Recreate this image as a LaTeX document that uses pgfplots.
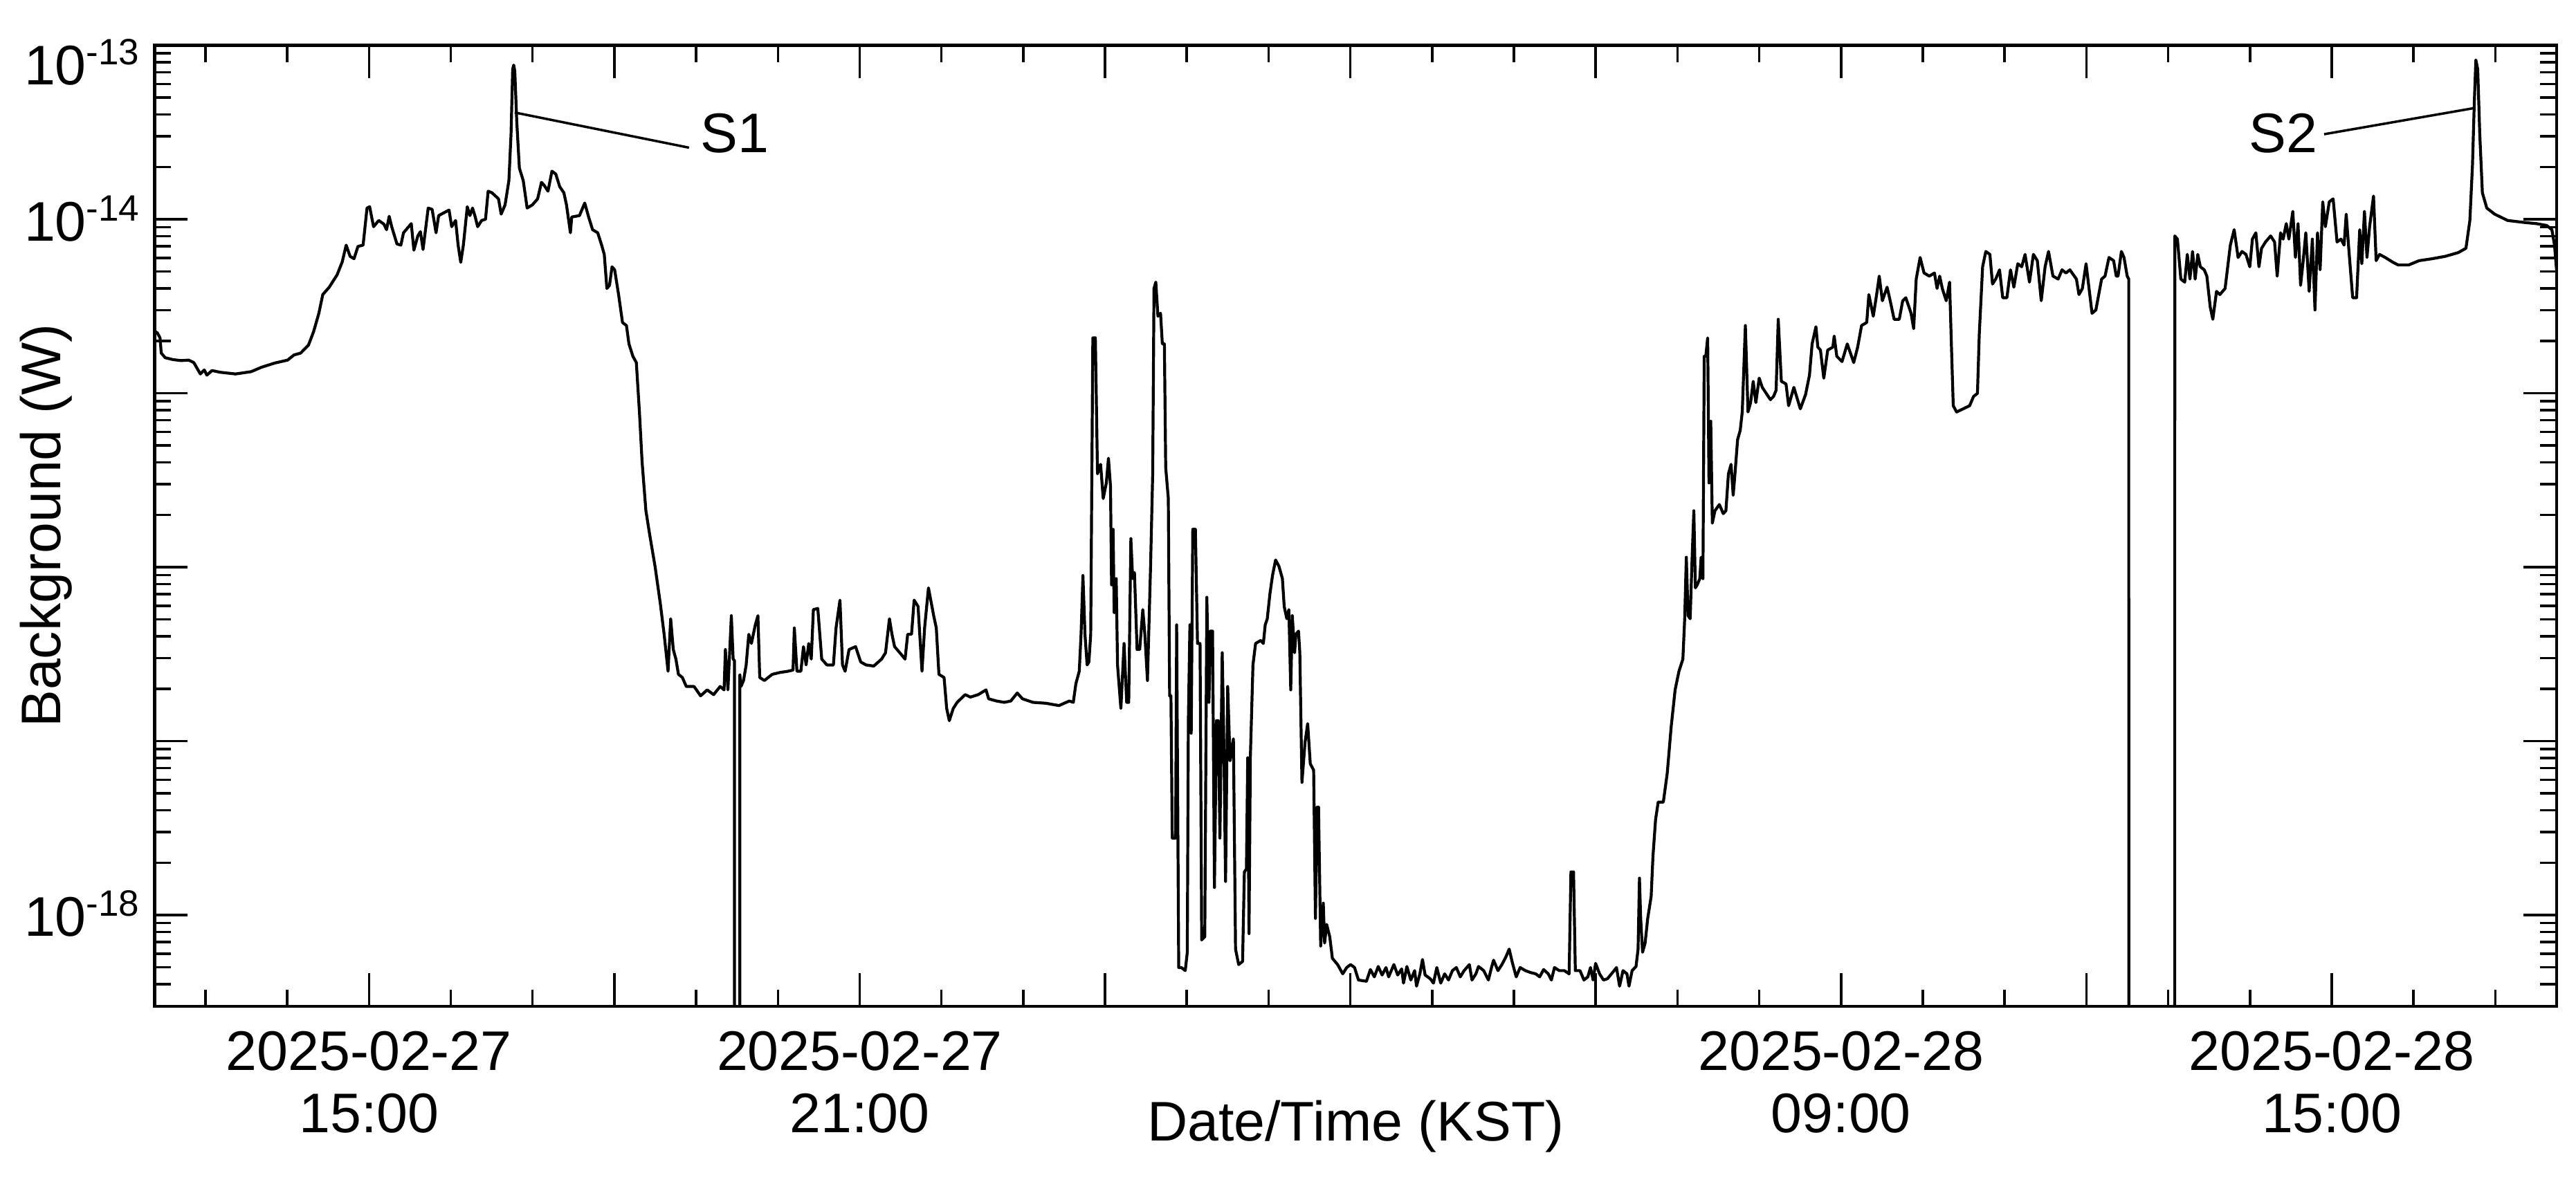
\documentclass[border=0pt]{standalone}
\usepackage{fontspec}
\setmainfont{Liberation Sans}
\usepackage{pgfplots}
\pgfplotsset{compat=1.18}
\newcommand{\supl}[1]{10\raisebox{2.9pt}{\fontsize{5.3pt}{5.3pt}\selectfont -#1}}
\begin{document}
\begin{tikzpicture}[font=\fontsize{8.07pt}{9pt}\selectfont]
\begin{axis}[
  scale only axis, width=347.16pt, height=138.95pt,
  xmin=12.378, xmax=41.75, ymode=log, ymin=2.985e-19, ymax=1e-13,
  enlargelimits=false,
  axis line style={line width=0.45pt},
  tick align=inside, major tick length=4.8pt, minor tick length=2.4pt,
  every tick/.style={black, line width=0.35pt},
  xtick={15,18,21,24,27,30,33,36,39},
  xticklabels={{2025-02-27\\15:00},{},{2025-02-27\\21:00},{},{},{},{2025-02-28\\09:00},{},{2025-02-28\\15:00}},
  minor xtick={13,14,16,17,19,20,22,23,25,26,28,29,31,32,34,35,37,38,40,41},
  ytick={1e-18,1e-17,1e-16,1e-15,1e-14},
  yticklabels={\supl{18},{},{},{},\supl{14}},
  extra y ticks={1e-13}, extra y tick labels={\supl{13}},
  extra y tick style={yticklabel style={yshift=-2.55pt}},
  minor ytick={4e-19,5e-19,6e-19,7e-19,8e-19,9e-19,
    2e-18,3e-18,4e-18,5e-18,6e-18,7e-18,8e-18,9e-18,
    2e-17,3e-17,4e-17,5e-17,6e-17,7e-17,8e-17,9e-17,
    2e-16,3e-16,4e-16,5e-16,6e-16,7e-16,8e-16,9e-16,
    2e-15,3e-15,4e-15,5e-15,6e-15,7e-15,8e-15,9e-15,
    2e-14,3e-14,4e-14,5e-14,6e-14,7e-14,8e-14,9e-14},
  xticklabel style={align=center, anchor=north, inner sep=0pt, yshift=-3.4pt, font=\fontsize{8.07pt}{9pt}\selectfont},
  yticklabel style={anchor=base east, inner sep=0pt, xshift=-2pt, yshift=-3.1pt, font=\fontsize{8.07pt}{9pt}\selectfont},
  xlabel={Date/Time (KST)}, ylabel={Background (W)},
  every axis x label/.style={at={(rel axis cs:0.5,-0.1403)}, anchor=base, font=\fontsize{8.07pt}{9pt}\selectfont},
  every axis y label/.style={at={(rel axis cs:-0.039,0.5)}, anchor=base, rotate=90, font=\fontsize{8.07pt}{9pt}\selectfont},
]
\addplot[black, line width=0.42pt, line join=round, mark=none] coordinates {
(12.365,2.30e-15) (12.413,2.22e-15) (12.445,2.08e-15) (12.460,1.70e-15) (12.508,1.60e-15)
(12.604,1.56e-15) (12.699,1.54e-15) (12.795,1.55e-15) (12.858,1.50e-15) (12.938,1.29e-15)
(12.986,1.36e-15) (13.018,1.27e-15) (13.081,1.35e-15) (13.177,1.32e-15) (13.368,1.29e-15)
(13.559,1.33e-15) (13.686,1.41e-15) (13.846,1.49e-15) (14.005,1.55e-15) (14.084,1.66e-15)
(14.164,1.70e-15) (14.260,1.89e-15) (14.323,2.26e-15) (14.387,2.88e-15) (14.435,3.69e-15)
(14.514,4.07e-15) (14.610,4.79e-15) (14.673,5.69e-15) (14.721,7.10e-15) (14.769,6.12e-15)
(14.817,5.93e-15) (14.865,6.98e-15) (14.928,7.10e-15) (14.976,1.16e-14) (15.008,1.18e-14)
(15.056,9.06e-15) (15.119,9.84e-15) (15.183,9.37e-15) (15.215,8.71e-15) (15.247,1.04e-14)
(15.278,9.06e-15) (15.342,7.21e-15) (15.390,7.10e-15) (15.422,8.36e-15) (15.517,9.44e-15)
(15.549,6.64e-15) (15.597,8.02e-15) (15.629,8.49e-15) (15.661,6.70e-15) (15.724,1.16e-14)
(15.772,1.14e-14) (15.820,8.36e-15) (15.852,1.05e-14) (15.979,1.13e-14) (16.011,9.06e-15)
(16.059,9.84e-15) (16.090,7.10e-15) (16.122,5.65e-15) (16.154,7.10e-15) (16.202,1.18e-14)
(16.234,1.05e-14) (16.266,1.16e-14) (16.297,1.04e-14) (16.329,9.06e-15) (16.377,9.84e-15)
(16.425,1.00e-14) (16.457,1.45e-14) (16.504,1.42e-14) (16.584,1.31e-14) (16.616,1.07e-14)
(16.664,1.21e-14) (16.711,1.67e-14) (16.737,3.09e-14) (16.757,7.30e-14) (16.770,7.70e-14)
(16.783,7.10e-14) (16.807,3.64e-14) (16.839,1.97e-14) (16.886,1.67e-14) (16.934,1.16e-14)
(16.998,1.21e-14) (17.062,1.31e-14) (17.109,1.63e-14) (17.141,1.57e-14) (17.189,1.45e-14)
(17.237,1.89e-14) (17.284,1.82e-14) (17.332,1.54e-14)
(17.383,1.42e-14) (17.415,1.21e-14) (17.463,8.36e-15) (17.479,1.03e-14) (17.574,1.05e-14)
(17.638,1.24e-14) (17.686,1.03e-14) (17.734,8.71e-15) (17.797,8.36e-15) (17.845,7.10e-15)
(17.877,6.28e-15) (17.909,4.00e-15) (17.941,4.17e-15) (17.972,5.33e-15) (18.004,5.12e-15)
(18.052,3.69e-15) (18.100,2.55e-15) (18.148,2.45e-15) (18.179,1.92e-15) (18.227,1.63e-15)
(18.269,1.50e-15) (18.307,7.80e-16) (18.339,4.06e-16) (18.386,2.11e-16) (18.434,1.52e-16)
(18.498,1.01e-16) (18.562,6.19e-17) (18.609,4.11e-17) (18.657,2.52e-17) (18.689,5.05e-17)
(18.721,3.36e-17) (18.753,2.96e-17) (18.784,2.42e-17) (18.832,2.32e-17) (18.880,2.06e-17)
(18.975,2.06e-17) (19.055,1.82e-17) (19.135,1.97e-17) (19.214,1.85e-17) (19.294,2.06e-17)
(19.342,1.97e-17) (19.358,3.36e-17) (19.389,1.97e-17) (19.431,5.26e-17) (19.453,2.96e-17)
(19.469,2.90e-17) (19.470,1e-22) (19.534,1e-22) (19.535,2.40e-17)
(19.549,2.06e-17) (19.580,2.23e-17) (19.612,2.74e-17) (19.644,4.11e-17) (19.676,3.64e-17)
(19.724,4.66e-17) (19.756,5.26e-17) (19.778,2.32e-17) (19.835,2.23e-17) (19.931,2.42e-17)
(20.026,2.48e-17) (20.122,2.52e-17) (20.185,2.56e-17) (20.201,4.47e-17) (20.233,2.52e-17)
(20.281,2.52e-17) (20.313,3.49e-17) (20.345,2.74e-17) (20.377,3.64e-17) (20.408,2.96e-17)
(20.434,5.70e-17) (20.488,5.79e-17) (20.536,2.96e-17) (20.599,2.74e-17) (20.679,2.74e-17)
(20.711,4.47e-17) (20.759,6.46e-17) (20.790,2.74e-17) (20.822,2.52e-17) (20.870,3.36e-17)
(20.950,3.49e-17) (21.013,2.85e-17) (21.077,2.74e-17) (21.172,2.70e-17) (21.268,2.96e-17)
(21.316,3.22e-17) (21.364,5.05e-17) (21.395,4.11e-17) (21.427,3.49e-17) (21.491,3.22e-17)
(21.555,2.96e-17) (21.587,4.11e-17) (21.634,4.11e-17) (21.666,6.46e-17) (21.714,5.94e-17)
(21.762,2.52e-17) (21.794,4.47e-17) (21.841,7.60e-17) (21.905,5.26e-17) (21.937,4.47e-17)
(21.969,2.42e-17) (22.032,2.32e-17) (22.064,1.54e-17) (22.096,1.31e-17) (22.144,1.54e-17)
(22.192,1.67e-17)
(22.290,1.85e-17) (22.354,1.79e-17) (22.450,1.85e-17) (22.545,1.97e-17) (22.577,1.75e-17)
(22.672,1.70e-17) (22.768,1.67e-17) (22.848,1.70e-17) (22.927,1.89e-17) (22.991,1.75e-17)
(23.118,1.67e-17) (23.277,1.65e-17) (23.437,1.60e-17) (23.564,1.70e-17) (23.612,1.67e-17)
(23.644,2.14e-17) (23.685,2.52e-17) (23.707,4.11e-17) (23.730,8.95e-17) (23.755,4.11e-17)
(23.781,2.74e-17) (23.803,2.85e-17) (23.825,4.11e-17) (23.851,2.08e-15) (23.882,2.08e-15)
(23.908,3.44e-16) (23.946,3.90e-16) (23.978,2.48e-16) (24.016,3.05e-16) (24.042,4.23e-16)
(24.067,2.92e-16) (24.080,7.91e-17) (24.099,1.65e-16) (24.112,5.48e-17) (24.137,8.59e-17)
(24.153,2.74e-17) (24.194,1.54e-17) (24.233,3.64e-17) (24.265,1.67e-17) (24.290,1.67e-17)
(24.316,1.46e-16) (24.338,8.59e-17) (24.360,9.31e-17) (24.392,3.36e-17) (24.424,3.36e-17)
(24.462,5.70e-17) (24.487,4.11e-17) (24.519,2.23e-17) (24.557,1.01e-16) (24.583,3.44e-16)
(24.599,4.00e-15) (24.621,4.35e-15) (24.647,2.77e-15) (24.679,2.88e-15) (24.701,1.92e-15)
(24.726,1.92e-15) (24.742,3.74e-16) (24.774,2.48e-16) (24.790,1.82e-17) (24.806,1.82e-17)
(24.822,2.77e-18) (24.863,2.77e-18) (24.876,4.66e-17) (24.901,4.99e-19) (24.933,4.99e-19)
(24.981,4.79e-19) (25.006,6.11e-19) (25.019,1.31e-17) (25.038,4.66e-17) (25.054,1.11e-17)
(25.073,1.65e-16) (25.105,1.65e-16) (25.131,3.64e-17) (25.162,3.64e-17) (25.182,7.19e-19)
(25.220,7.50e-19) (25.245,6.71e-17) (25.271,1.67e-17) (25.290,4.29e-17) (25.315,4.29e-17)
(25.338,1.44e-18) (25.363,1.31e-17) (25.385,1.31e-17) (25.405,2.77e-18) (25.433,3.22e-17)
(25.449,1.31e-17) (25.474,1.56e-18) (25.500,2.06e-17) (25.529,7.71e-18) (25.570,1.03e-17)
(25.596,6.37e-19) (25.634,5.19e-19) (25.682,5.41e-19) (25.704,1.77e-18) (25.729,1.84e-18)
(25.745,8.02e-18) (25.761,7.82e-19) (25.777,8.02e-18) (25.809,2.74e-17) (25.841,3.64e-17)
(25.904,3.79e-17) (25.936,3.64e-17) (25.959,4.66e-17) (25.984,5.05e-17) (26.016,7.00e-17)
(26.048,8.95e-17) (26.086,1.10e-16) (26.127,1.01e-16) (26.169,8.59e-17) (26.191,5.94e-17)
(26.223,5.05e-17) (26.248,5.70e-17) (26.271,1.97e-17) (26.290,5.26e-17) (26.318,3.22e-17)
(26.334,4.11e-17) (26.366,4.29e-17) (26.382,3.22e-17) (26.408,5.79e-18) (26.446,9.84e-18)
(26.478,1.26e-17) (26.510,7.40e-18) (26.551,6.81e-18) (26.573,9.57e-19) (26.595,4.17e-18)
(26.611,4.17e-18) (26.637,6.64e-19) (26.669,1.17e-18) (26.685,6.90e-19) (26.710,8.83e-19)
(26.748,7.50e-19) (26.780,5.64e-19) (26.844,5.19e-19) (26.907,4.59e-19) (26.955,4.99e-19)
(27.003,5.19e-19) (27.051,4.99e-19) (27.099,4.23e-19)
(27.197,4.16e-19) (27.245,4.86e-19) (27.293,4.41e-19) (27.341,5.06e-19) (27.388,4.52e-19)
(27.436,4.99e-19) (27.468,4.41e-19) (27.532,5.19e-19) (27.579,4.52e-19) (27.627,4.90e-19)
(27.650,4.06e-19) (27.691,5.06e-19) (27.739,4.23e-19) (27.786,4.79e-19) (27.809,3.90e-19)
(27.850,4.59e-19) (27.882,5.55e-19) (27.914,4.52e-19) (27.977,4.30e-19) (28.016,4.06e-19)
(28.057,4.99e-19) (28.105,4.06e-19) (28.153,4.59e-19) (28.200,4.23e-19) (28.248,4.79e-19)
(28.296,4.99e-19) (28.344,4.41e-19) (28.391,4.79e-19) (28.455,5.19e-19) (28.487,4.23e-19)
(28.535,4.59e-19) (28.567,5.06e-19) (28.630,4.79e-19) (28.688,4.23e-19) (28.726,4.99e-19)
(28.751,5.50e-19) (28.805,4.79e-19) (28.853,5.19e-19) (28.901,5.73e-19) (28.942,6.37e-19)
(28.981,5.32e-19) (29.028,4.41e-19) (29.076,4.99e-19) (29.140,4.79e-19) (29.203,4.67e-19)
(29.267,4.59e-19) (29.315,4.41e-19) (29.363,4.86e-19) (29.420,4.59e-19) (29.458,4.23e-19)
(29.496,4.99e-19) (29.554,4.79e-19) (29.617,4.79e-19) (29.675,4.59e-19) (29.697,1.77e-18)
(29.729,1.77e-18) (29.751,4.79e-19) (29.808,4.79e-19) (29.856,4.23e-19) (29.904,4.41e-19)
(29.936,4.99e-19) (29.968,4.23e-19) (29.999,5.27e-19) (30.047,4.59e-19) (30.095,4.23e-19)
(30.143,4.30e-19) (30.206,4.67e-19) (30.254,4.99e-19) (30.292,3.90e-19) (30.334,4.79e-19)
(30.382,4.59e-19) (30.407,3.90e-19) (30.445,4.79e-19) (30.493,5.06e-19) (30.518,6.37e-19)
(30.535,1.63e-18) (30.550,9.57e-19) (30.573,6.11e-19) (30.604,6.90e-19) (30.636,9.57e-19)
(30.678,1.28e-18) (30.700,2.17e-18) (30.732,3.54e-18) (30.764,4.46e-18) (30.827,4.46e-18)
(30.875,6.55e-18) (30.923,1.21e-17) (30.971,1.97e-17) (31.018,2.52e-17) (31.066,2.96e-17)
(31.088,5.05e-17) (31.108,1.14e-16) (31.130,5.26e-17) (31.155,5.05e-17) (31.178,1.10e-16)
(31.200,2.11e-16) (31.219,7.60e-17) (31.241,7.91e-17) (31.273,8.59e-17) (31.289,1.14e-16)
(31.311,8.59e-17) (31.327,1.63e-15) (31.346,1.63e-15) (31.369,2.08e-15) (31.385,3.05e-16)
(31.407,6.90e-16) (31.426,1.79e-16) (31.458,2.11e-16) (31.512,2.29e-16) (31.560,2.03e-16)
(31.592,2.11e-16) (31.623,3.44e-16) (31.655,3.90e-16) (31.681,2.59e-16) (31.703,3.44e-16)
(31.735,5.41e-16) (31.767,6.11e-16) (31.792,7.80e-16) (31.830,2.45e-15) (31.862,7.80e-16)
(31.894,8.83e-16) (31.926,1.17e-15) (31.958,8.83e-16) (31.999,1.22e-15) (32.037,1.08e-15)
(32.136,9.18e-16) (32.174,9.57e-16) (32.206,1.04e-15) (32.232,2.66e-15) (32.270,1.17e-15)
(32.327,1.13e-15) (32.359,8.47e-16) (32.423,1.08e-15) (32.502,8.13e-16) (32.566,9.82e-16)
(32.614,1.27e-15) (32.646,1.92e-15) (32.693,2.41e-15) (32.716,1.84e-15) (32.748,1.77e-15)
(32.789,1.22e-15) (32.837,1.77e-15) (32.900,1.84e-15) (32.916,2.13e-15) (32.948,1.63e-15)
(33.012,1.52e-15) (33.076,1.92e-15) (33.155,1.50e-15) (33.203,1.84e-15) (33.251,2.45e-15)
(33.314,2.55e-15) (33.340,3.69e-15) (33.394,2.77e-15) (33.435,3.69e-15) (33.467,4.71e-15)
(33.505,3.40e-15) (33.563,4.07e-15) (33.601,3.40e-15) (33.649,2.66e-15) (33.712,2.66e-15)
(33.754,3.40e-15) (33.792,3.54e-15) (33.856,2.88e-15) (33.888,2.35e-15) (33.919,4.53e-15)
(33.967,6.03e-15) (34.015,4.91e-15) (34.079,4.71e-15) (34.142,4.91e-15) (34.174,4.00e-15)
(34.206,4.71e-15) (34.238,4.00e-15) (34.286,3.40e-15) (34.327,4.35e-15) (34.349,1.92e-15)
(34.372,8.47e-16) (34.413,7.80e-16) (34.493,8.13e-16) (34.572,8.47e-16) (34.620,9.57e-16)
(34.668,9.98e-16) (34.690,2.17e-15) (34.731,5.33e-15) (34.770,6.53e-15) (34.820,6.28e-15)
(34.852,4.24e-15) (34.891,4.53e-15) (34.938,5.12e-15) (34.977,3.54e-15) (35.028,3.54e-15)
(35.072,5.12e-15) (35.113,4.07e-15) (35.161,5.55e-15) (35.209,5.33e-15) (35.250,6.28e-15)
(35.304,4.35e-15) (35.352,6.28e-15) (35.400,5.78e-15) (35.448,3.40e-15) (35.495,5.33e-15)
(35.537,6.53e-15) (35.591,4.71e-15) (35.655,4.53e-15) (35.702,5.12e-15) (35.750,4.91e-15)
(35.798,5.12e-15) (35.878,4.53e-15) (35.909,3.69e-15) (35.951,4.00e-15) (35.996,5.55e-15)
(36.069,2.88e-15) (36.116,3.01e-15) (36.186,4.53e-15) (36.228,4.71e-15) (36.276,6.03e-15)
(36.333,5.78e-15) (36.365,4.71e-15) (36.387,4.71e-15) (36.428,6.53e-15) (36.460,6.03e-15)
(36.499,4.71e-15) (36.518,4.53e-15) (36.519,1e-22) (37.080,1e-22) (37.081,8.02e-15)
(37.113,7.69e-15) (37.155,4.53e-15) (37.202,4.35e-15) (37.234,6.28e-15) (37.266,4.53e-15)
(37.298,6.53e-15) (37.330,4.53e-15) (37.362,6.28e-15) (37.393,5.33e-15) (37.441,5.12e-15)
(37.473,4.71e-15) (37.514,3.13e-15) (37.546,2.66e-15) (37.591,3.85e-15) (37.632,3.69e-15)
(37.696,4.00e-15) (37.728,5.33e-15) (37.760,7.10e-15) (37.807,8.71e-15) (37.855,6.03e-15)
(37.903,6.53e-15) (37.951,6.28e-15) (37.998,5.33e-15) (38.030,7.69e-15) (38.072,8.36e-15)
(38.110,5.33e-15) (38.142,6.81e-15) (38.190,7.40e-15) (38.253,8.02e-15) (38.301,7.40e-15)
(38.333,4.71e-15) (38.374,8.36e-15) (38.406,7.69e-15) (38.444,9.44e-15) (38.476,7.69e-15)
(38.524,1.11e-14) (38.556,6.03e-15) (38.588,9.44e-15) (38.619,4.17e-15) (38.651,5.78e-15)
(38.683,8.36e-15) (38.724,3.85e-15) (38.763,7.69e-15) (38.795,3.01e-15) (38.826,8.36e-15)
(38.858,5.12e-15) (38.890,1.26e-14) (38.922,9.06e-15) (38.970,1.26e-14) (39.017,1.31e-14)
(39.065,7.40e-15) (39.113,7.69e-15) (39.151,7.10e-15) (39.177,1.07e-14) (39.208,6.81e-15)
(39.256,3.54e-15) (39.304,3.54e-15) (39.342,8.71e-15) (39.368,5.55e-15) (39.400,1.11e-14)
(39.431,6.03e-15) (39.463,9.06e-15) (39.511,1.36e-14) (39.543,5.78e-15) (39.584,6.28e-15)
(39.654,6.03e-15) (39.750,5.65e-15) (39.813,5.46e-15) (39.941,5.46e-15) (40.068,5.78e-15)
(40.227,5.93e-15) (40.387,6.12e-15) (40.546,6.43e-15) (40.641,6.81e-15) (40.689,9.84e-15)
(40.721,2.05e-14) (40.743,4.65e-14) (40.762,8.24e-14) (40.785,7.29e-14) (40.810,3.09e-14)
(40.842,1.42e-14) (40.896,1.16e-14) (40.992,1.07e-14) (41.151,9.84e-15) (41.342,9.60e-15)
(41.501,9.44e-15) (41.628,9.21e-15) (41.692,8.71e-15) (41.724,7.10e-15) (41.749,5.12e-15)
};
\draw[line width=0.35pt] (rel axis cs:0.1499,0.9301) -- (rel axis cs:0.2225,0.8935);
\node[anchor=base west, inner sep=0pt] at (rel axis cs:0.2268,0.8883) {S1};
\draw[line width=0.35pt] (rel axis cs:0.9655,0.9346) -- (rel axis cs:0.9032,0.9075);
\node[anchor=base east, inner sep=0pt] at (rel axis cs:0.9010,0.8883) {S2};
\coordinate (bbsw) at (rel axis cs:-0.06435,-0.18280);
\coordinate (bbne) at (rel axis cs:1.00806,1.04714);
\end{axis}
\pgfresetboundingbox
\path[use as bounding box] (bbsw) rectangle (bbne);
\end{tikzpicture}
\end{document}
